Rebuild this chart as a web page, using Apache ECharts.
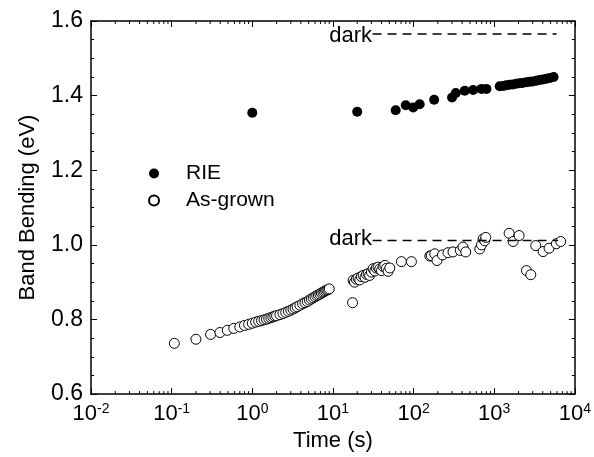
<!DOCTYPE html>
<html><head><meta charset="utf-8">
<script src="https://cdn.jsdelivr.net/npm/echarts@6/dist/echarts.min.js"></script>
<style>html,body{margin:0;padding:0;background:#fff}#c{width:594px;height:457px}</style>
</head><body><div id="c"></div>
<script>
// ---- data ----
const rieTime = [1.0, 20, 60, 80, 99, 119, 180, 300, 334, 431, 547, 695, 800,
  1170, 1300, 1415, 1550, 1700, 1880, 2050, 2250, 2500, 2750, 3000, 3330, 3650, 4000, 4430, 4900, 5450];
const rieBand = [1.354, 1.357, 1.361, 1.374, 1.368, 1.377, 1.389, 1.395, 1.407, 1.413, 1.415, 1.418, 1.418,
  1.425, 1.426, 1.428, 1.429, 1.430, 1.432, 1.433, 1.434, 1.436, 1.437, 1.438, 1.440, 1.442, 1.443, 1.445, 1.447, 1.450];

const grownTime = [0.108, 0.2, 0.304, 0.397, 0.49, 0.59,
  0.7, 0.8, 0.9, 1.0, 1.1, 1.2, 1.3, 1.4, 1.5, 1.6, 1.7, 1.8, 1.9, 2.0, 2.2, 2.4, 2.6, 2.8, 3.0, 3.2, 3.4, 3.6, 3.9,
  4.2, 4.5, 4.8, 5.1, 5.4, 5.7, 6.0, 6.3, 6.6, 6.9, 7.2, 7.5, 7.8, 8.1, 8.4, 8.7, 9.0,
  17.5, 17.8, 18.5, 19.5, 20.5, 21.5, 22.5, 23.7, 25, 26, 27.3, 28.5, 30, 31.5, 33, 34.5, 36.3, 38, 40, 42, 44, 46, 48.3, 50.7,
  70.6, 94, 159, 166, 183, 195, 228, 267, 308, 380, 410, 443, 661, 695, 728, 763, 785,
  1530, 1714, 2035, 2510, 2840, 3275, 4035, 4790, 5900, 6670];
const grownBand = [0.736, 0.747, 0.760, 0.765, 0.771, 0.776,
  0.780, 0.784, 0.787, 0.790, 0.793, 0.795, 0.797, 0.799, 0.801, 0.803, 0.805, 0.807, 0.809, 0.810, 0.813, 0.816, 0.819, 0.822, 0.825, 0.828, 0.831, 0.834, 0.838,
  0.842, 0.845, 0.848, 0.852, 0.855, 0.858, 0.861, 0.864, 0.866, 0.868, 0.871, 0.873, 0.875, 0.877, 0.879, 0.880, 0.882,
  0.845, 0.905, 0.900, 0.908, 0.911, 0.906, 0.915, 0.918, 0.913, 0.921, 0.923, 0.918, 0.927, 0.936, 0.930, 0.938, 0.940, 0.935, 0.931, 0.942, 0.945, 0.937, 0.929, 0.938,
  0.955, 0.955, 0.970, 0.971, 0.976, 0.958, 0.973, 0.979, 0.981, 0.985, 0.994, 0.981, 0.989, 1.000, 1.016, 1.011, 1.020,
  1.031, 1.009, 1.025, 0.931, 0.920, 0.998, 0.982, 0.991, 1.003, 1.009];

const darkRIETime = [31, 5950];
const darkRIEBand = [1.565, 1.565];
const darkGrownTime = [31, 6200];
const darkGrownBand = [1.012, 1.012];

const seriesNames = ['RIE', 'As-grown'];
const darkText = 'dark';
const xTitle = 'Time (s)';
const yTitle = 'Band Bending (eV)';
const xMin = 0.01, xMax = 10000;
const yMin = 0.6, yMax = 1.6, yStep = 0.2;
const minorDecades = [0.01, 0.1, 1, 10, 100, 1000];
const minorMultipliers = [2, 3, 4, 5, 6, 7, 8, 9];

// ---- build ----
const FONT = 'Liberation Sans';
const zip = (a, b) => a.map((v, i) => [v, b[i]]);
const minorTicks = [];
minorDecades.forEach(d => minorMultipliers.forEach(m => minorTicks.push([d * m, yMin])));

const chart = echarts.init(document.getElementById('c'), null, {renderer: 'canvas'});

const xLabelFmt = v => {
  const e = Math.round(Math.log10(v));
  return '{b|10}{s|' + e + '}';
};

const commonX = {
  type: 'log', logBase: 10, min: xMin, max: xMax,
  axisLine: {show: true, lineStyle: {color: '#000', width: 1.5}},
  axisTick: {show: true, inside: true, length: 6, lineStyle: {color: '#000', width: 1}},
  splitLine: {show: false}
};
const commonY = {
  type: 'value', min: yMin, max: yMax, interval: yStep,
  axisLine: {show: true, lineStyle: {color: '#000', width: 1.5}},
  axisTick: {show: true, inside: true, length: 6, lineStyle: {color: '#000', width: 1}},
  minorTick: {show: true, splitNumber: 4, length: 3, lineStyle: {color: '#000', width: 1}},
  splitLine: {show: false}
};

chart.setOption({
  animation: false,
  backgroundColor: '#fff',
  textStyle: {fontFamily: FONT},
  grid: {left: 91, right: 19, top: 21, bottom: 61},
  legend: {
    data: seriesNames,
    orient: 'vertical',
    left: 143, top: 158,
    itemWidth: 10, itemHeight: 10, itemGap: 6,
    textStyle: {fontFamily: FONT, fontSize: 21, color: '#000', padding: [0, 0, 0, 22]}
  },
  xAxis: [
    Object.assign({}, commonX, {
      position: 'bottom',
      name: xTitle, nameLocation: 'middle', nameGap: 27,
      nameTextStyle: {fontFamily: FONT, fontSize: 22, color: '#000'},
      axisLabel: {
        show: true, margin: 8, color: '#000', formatter: xLabelFmt,
        rich: {
          b: {fontFamily: FONT, fontSize: 22, color: '#000'},
          s: {fontFamily: FONT, fontSize: 14, color: '#000', verticalAlign: 'top', padding: [0, 0, 10, 0]}
        }
      }
    }),
    Object.assign({}, commonX, {position: 'top', axisLabel: {show: false}})
  ],
  yAxis: [
    Object.assign({}, commonY, {
      position: 'left',
      name: yTitle, nameLocation: 'middle', nameGap: 52, nameRotate: 90,
      nameTextStyle: {fontFamily: FONT, fontSize: 22, color: '#000'},
      axisLabel: {show: true, margin: 8, color: '#000', fontFamily: FONT, fontSize: 23,
        formatter: v => v.toFixed(1)}
    }),
    Object.assign({}, commonY, {position: 'right', axisLabel: {show: false}})
  ],
  series: [
    {
      name: seriesNames[0], type: 'scatter', symbol: 'circle', symbolSize: 10,
      itemStyle: {color: '#000', opacity: 1},
      data: zip(rieTime, rieBand)
    },
    {
      name: seriesNames[1], type: 'scatter', symbol: 'circle', symbolSize: 10,
      itemStyle: {color: '#fff', borderColor: '#000', borderWidth: 1, opacity: 1},
      data: zip(grownTime, grownBand)
    },
    {
      type: 'line', symbol: 'none', silent: true,
      lineStyle: {color: '#000', width: 1.5, type: [9, 6], opacity: 1},
      data: zip(darkRIETime, darkRIEBand)
    },
    {
      type: 'line', symbol: 'none', silent: true,
      lineStyle: {color: '#000', width: 1.5, type: [9, 6], opacity: 1},
      data: zip(darkGrownTime, darkGrownBand)
    },
    {
      type: 'scatter', silent: true, symbolSize: 1,
      itemStyle: {color: '#fff', opacity: 1},
      label: {show: true, position: 'left', distance: 0, formatter: darkText,
        color: '#000', opacity: 1, fontFamily: FONT, fontSize: 22},
      data: [[darkRIETime[0], darkRIEBand[0] - 0.006], [darkGrownTime[0], darkGrownBand[0] + 0.003]]
    },
    {
      type: 'custom', silent: true, clip: false,
      renderItem: function (params, api) {
        const x = api.value(0);
        const b = api.coord([x, yMin]);
        const t = api.coord([x, yMax]);
        return {type: 'group', children: [
          {type: 'line', shape: {x1: b[0], y1: b[1], x2: b[0], y2: b[1] - 3}, style: {stroke: '#000', lineWidth: 1}},
          {type: 'line', shape: {x1: t[0], y1: t[1], x2: t[0], y2: t[1] + 3}, style: {stroke: '#000', lineWidth: 1}}
        ]};
      },
      data: minorTicks
    }
  ]
});
</script>
</body></html>
